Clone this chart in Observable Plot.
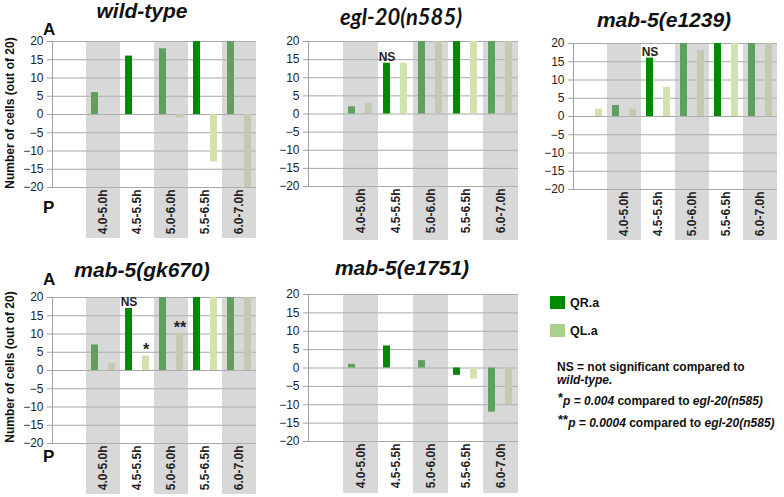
<!DOCTYPE html>
<html><head><meta charset="utf-8">
<script src="https://cdn.jsdelivr.net/npm/d3@7"></script>
<script src="https://cdn.jsdelivr.net/npm/@observablehq/plot@0.6"></script>
<style>
body{margin:0;background:#fff;}
#root{position:relative;width:784px;height:497px;overflow:hidden;font-family:"Liberation Sans",Arial,sans-serif;}
#root .panel{position:absolute;}
#overlay{position:absolute;left:0;top:0;pointer-events:none;}
</style></head><body><div id="root"></div>
<script>
// ---- data ----
const categories = ["", "4.0-5.0h", "4.5-5.5h", "5.0-6.0h", "5.5-6.5h", "6.0-7.0h"];
const shadedCategories = ["4.0-5.0h", "5.0-6.0h", "6.0-7.0h"];
const seriesNames = ["QR.a", "QL.a"];
const yTicks = [-20, -15, -10, -5, 0, 5, 10, 15, 20];
const panelTitles = ["wild-type", "egl-20(n585)", "mab-5(e1239)", "mab-5(gk670)", "mab-5(e1751)"];

const wildTypeQR = [0, 6, 16, 18, 20, 20];
const wildTypeQL = [0, 0, 0, -1, -13, -20];
const egl20QR = [0, 2, 14, 20, 20, 20];
const egl20QL = [0, 3, 14, 20, 20, 20];
const e1239QR = [0, 3, 16, 20, 20, 20];
const e1239QL = [2, 2, 8, 18, 20, 20];
const gk670QR = [0, 7, 17, 20, 20, 20];
const gk670QL = [0, 2, 4, 10, 20, 20];
const e1751QR = [0, 1, 6, 2, -2, -12];
const e1751QL = [0, 0, 0, 0, -3, -10];

const wildTypeMarks = [];
const egl20Marks = [{category: "4.5-5.5h", series: "QR.a", label: "NS"}];
const e1239Marks = [{category: "4.5-5.5h", series: "QR.a", label: "NS"}];
const gk670Marks = [
  {category: "4.5-5.5h", series: "QR.a", label: "NS"},
  {category: "4.5-5.5h", series: "QL.a", label: "*"},
  {category: "5.0-6.0h", series: "QL.a", label: "**"}
];
const e1751Marks = [];

const yAxisLabel = "Number of cells (out of 20)";
const legendLabels = ["QR.a", "QL.a"];

// ---- layout ----
const FONT = "'Liberation Sans', Arial, sans-serif";
const root = document.getElementById("root");
const panels = [
  {qr: wildTypeQR, ql: wildTypeQL, notes: wildTypeMarks, g: {left: 49, right: 258, top: 41, bottom: 187, labelBottom: 238}},
  {qr: egl20QR, ql: egl20QL, notes: egl20Marks, g: {left: 308, right: 518, top: 41, bottom: 186, labelBottom: 240}},
  {qr: e1239QR, ql: e1239QL, notes: e1239Marks, g: {left: 570, right: 779, top: 43, bottom: 189, labelBottom: 240}},
  {qr: gk670QR, ql: gk670QL, notes: gk670Marks, g: {left: 49, right: 258, top: 297, bottom: 443, labelBottom: 494}},
  {qr: e1751QR, ql: e1751QL, notes: e1751Marks, g: {left: 308, right: 518, top: 294, bottom: 441, labelBottom: 493}}
];

function drawPanel({qr, ql, notes, g}) {
  const rows = [];
  categories.forEach((c, i) => {
    rows.push({category: c, series: "QR.a", value: qr[i]});
    rows.push({category: c, series: "QL.a", value: ql[i]});
  });
  const noteRows = notes.map(n => ({...n, value: (n.series === "QR.a" ? qr : ql)[categories.indexOf(n.category)]}));
  const mL = 45, mR = 3, mT = 12, mB = g.labelBottom - g.bottom;
  const pxPerUnit = (g.bottom - g.top) / 40;
  const bandBottom = -20 - mB / pxPerUnit;
  const chart = Plot.plot({
    width: g.right - g.left + mL + mR,
    height: g.bottom - g.top + mT + mB,
    marginLeft: mL, marginRight: mR, marginTop: mT, marginBottom: mB,
    style: {fontFamily: FONT, fontSize: "12px", color: "#222", background: "transparent", overflow: "visible"},
    fx: {domain: categories, padding: 0, axis: null},
    x: {domain: seriesNames, paddingInner: 0.56, paddingOuter: 0.28, axis: null},
    y: {domain: [-20, 20], axis: null},
    color: {domain: seriesNames, range: ["#008a00", "#d2e2ad"]},
    marks: [
      Plot.gridY(yTicks, {stroke: "#a8a8a8", strokeOpacity: 1}),
      Plot.barY(rows, {fx: "category", x: "series", y: "value", fill: "series"}),
      Plot.barY(shadedCategories, {fx: d => d, y1: bandBottom, y2: 20, fill: "#b5b5b5", fillOpacity: 0.52}),
      Plot.axisY(yTicks, {anchor: "left", tickSize: 5, stroke: "#a0a0a0", tickPadding: 4, fontSize: 12, fill: "#222", label: null}),
      Plot.frame({anchor: "left", facetAnchor: "left", stroke: "#a0a0a0"}),
      Plot.axisFx({anchor: "bottom", tickRotate: -90, tickSize: 0, tickPadding: 2, fontWeight: "bold", fontSize: 12, fill: "#222", label: null}),
      Plot.text(noteRows.filter(d => d.label === "NS"), {fx: "category", x: "series", y: "value", text: "label", dy: -2, lineAnchor: "bottom", fontWeight: "bold", fontSize: 12, fill: "#222"}),
      Plot.text(noteRows.filter(d => d.label !== "NS"), {fx: "category", x: "series", y: "value", text: "label", dy: -1, lineAnchor: "bottom", fontWeight: "bold", fontSize: 16, fill: "#222"})
    ]
  });
  chart.classList.add("panel");
  chart.style.left = (g.left - mL) + "px";
  chart.style.top = (g.top - mT) + "px";
  root.appendChild(chart);
}
panels.forEach(drawPanel);

// ---- overlay text (titles, A/P, labels, legend, notes) ----
const svg = d3.select(root).append("svg").attr("id", "overlay")
  .attr("width", 784).attr("height", 497)
  .style("font-family", FONT).style("fill", "#111");

const titlePos = [[142, 18], [401, 25], [664, 27], [142, 277], [402, 275]];
panelTitles.forEach((t, i) => {
  const el = svg.append("text").attr("x", titlePos[i][0]).attr("y", titlePos[i][1])
    .attr("text-anchor", "middle").attr("font-size", 21).attr("font-weight", "bold")
    .attr("font-style", "italic").text(t);
  if (i === 1) el.attr("font-family", "Lato, 'Liberation Sans', sans-serif").attr("font-size", 22);
});

[[35, 213, 113], [285, 462, 367]].forEach(([ay, py, ly]) => {
  svg.append("text").attr("x", 43).attr("y", ay).attr("font-size", 17).attr("font-weight", "bold").text("A");
  svg.append("text").attr("x", 43).attr("y", py).attr("font-size", 17).attr("font-weight", "bold").text("P");
  svg.append("text").attr("transform", `translate(14,${ly}) rotate(-90)`)
    .attr("text-anchor", "middle").attr("font-size", 12).attr("font-weight", "bold").text(yAxisLabel);
});

const legendColors = ["#008a00", "#a9d18e"];
legendLabels.forEach((l, i) => {
  const y = 296 + i * 28;
  svg.append("rect").attr("x", 550).attr("y", y).attr("width", 15).attr("height", 13).attr("fill", legendColors[i]);
  svg.append("text").attr("x", 570).attr("y", y + 11).attr("font-size", 12.5).attr("font-weight", "bold").text(l);
});

svg.append("text").attr("x", 557).attr("y", 371).attr("font-size", 12).attr("font-weight", "bold")
  .text("NS = not significant compared to");
svg.append("text").attr("x", 557).attr("y", 384).attr("font-size", 12).attr("font-weight", "bold")
  .attr("font-style", "italic").text("wild-type.");

function pLine(y, stars, pval) {
  const t = svg.append("text").attr("x", 558).attr("y", y).attr("font-size", 12).attr("font-weight", "bold");
  t.append("tspan").attr("font-size", 13).attr("dy", -3).text(stars);
  t.append("tspan").attr("font-style", "italic").attr("dy", 3).text("p = " + pval);
  t.append("tspan").text(" compared to ");
  t.append("tspan").attr("font-style", "italic").text("egl-20(n585)");
}
pLine(405, "*", "0.004");
pLine(427, "**", "0.0004");
</script></body></html>
